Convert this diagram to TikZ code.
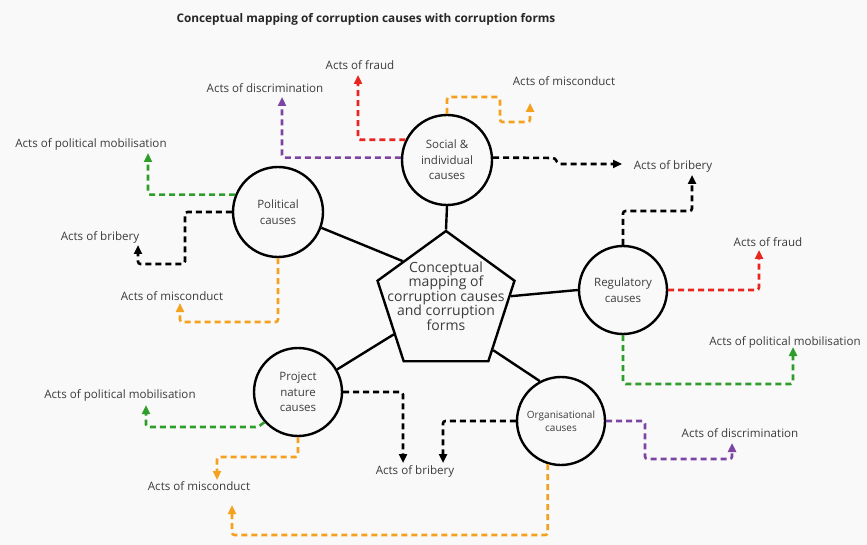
\documentclass[tikz,border=0pt]{standalone}
\usepackage{fontspec}
\setmainfont{Open Sans}
\usetikzlibrary{shapes.geometric,arrows.meta}
\definecolor{paper}{HTML}{F9F9F9}
\definecolor{ink}{HTML}{3C3C3C}
\definecolor{fraudred}{HTML}{E8251F}
\definecolor{discpurple}{HTML}{7E44A3}
\definecolor{miscorange}{HTML}{F4A11D}
\definecolor{mobgreen}{HTML}{2E9E2A}
\begin{document}
\begin{tikzpicture}[x=1pt,y=-1pt,
  cause/.style={circle,draw=black,line width=2.4pt,minimum size=88pt,inner sep=0pt,
    align=center,text=ink,font=\fontsize{11.5}{15.5}\selectfont},
  form/.style={text=ink,inner sep=1pt,font=\fontsize{11.6}{13}\selectfont},
  link/.style={line width=2.4pt},
  flow/.style={line width=2.6pt,dash pattern=on 6pt off 4pt,rounded corners=2.5pt,
    -{Triangle[length=9pt,width=8pt]}}]
\fill[paper] (0,0) rectangle (867,545);
\useasboundingbox (0,0) rectangle (867,545);

% title
\node[text=black!85,font=\bfseries\fontsize{11.8}{13}\selectfont] (title) at (366,19)
  {Conceptual mapping of corruption causes with corruption forms};

% central pentagon
\node[regular polygon,regular polygon sides=5,draw=black,line width=2.4pt,
  minimum size=144pt,inner sep=0pt,
  label={[text=ink,align=center,font=\fontsize{14}{14.6}\selectfont,yshift=7pt]center:Conceptual\\mapping of\\corruption causes\\and corruption\\forms}]
  (pent) at (446,303) {};

% cause circles
\node[cause,minimum size=90pt] (social) at (447,160) {Social \&\\individual\\causes};
\node[cause,minimum size=90pt] (pol) at (278,212) {Political\\causes};
\node[cause] (reg) at (623,290) {Regulatory\\causes};
\node[cause] (proj) at (298,392) {Project\\nature\\causes};
\node[cause,font=\fontsize{10}{13.5}\selectfont] (org) at (561,421) {Organisational\\causes};

% solid links to the centre
\draw[link] (social.south) -- (pent.90);
\draw[link] (pol.-20) -- (pent.136);
\draw[link] (reg.west) -- (pent.6);
\draw[link] (proj.30) -- (pent.211);
\draw[link] (org.118) -- (pent.315);

% corruption forms
\node[form] (fraud1) at (360,65) {Acts of fraud};
\node[form] (disc1) at (265,88) {Acts of discrimination};
\node[form] (misc1) at (564,81) {Acts of misconduct};
\node[form] (brib1) at (673,166) {Acts of bribery};
\node[form] (mob2) at (91,144) {Acts of political mobilisation};
\node[form] (brib2) at (100,237) {Acts of bribery};
\node[form] (misc2) at (172,296) {Acts of misconduct};
\node[form] (fraud3) at (768,242) {Acts of fraud};
\node[form] (mob3) at (785,342) {Acts of political mobilisation};
\node[form] (mob4) at (120,395) {Acts of political mobilisation};
\node[form] (misc4) at (199,486) {Acts of misconduct};
\node[form] (brib4) at (415,471) {Acts of bribery};
\node[form] (disc5) at (740,433) {Acts of discrimination};

% arrow ends
\coordinate (fraud1a) at (358,75);
\coordinate (disc1a) at (282,97);
\coordinate (misc1a) at (530,103);
\coordinate (brib1a) at (622,164);
\coordinate (mob2a) at (148,153);
\coordinate (brib2a) at (138,245);
\coordinate (misc2a) at (180,303);
\coordinate (brib3a) at (692,175);
\coordinate (fraud3a) at (759,250);
\coordinate (mob3a) at (793,347);
\coordinate (mob4a) at (146,405);
\coordinate (misc4a) at (217,480);
\coordinate (brib4a) at (403,463);
\coordinate (brib5a) at (443,463);
\coordinate (disc5a) at (732,443);
\coordinate (misc5a) at (232,505);

% social & individual causes
\draw[flow,fraudred] (social.154) -| (fraud1a);
\draw[flow,discpurple] (social.177) -| (disc1a);
\draw[flow,miscorange] (social.north) |- (500,97) |- (530,122) -- (misc1a);
\draw[flow,black] (social.3) -- (555,158) -- (558,164) -- (brib1a);

% political causes
\draw[flow,mobgreen] (pol.158) -| (mob2a);
\draw[flow,black] (pol.west) -- (185,212) |- (138,264) -- (brib2a);
\draw[flow,miscorange] (pol.south) |- (180,322) -- (misc2a);

% regulatory causes
\draw[flow,black] (reg.north) |- (692,211) -- (brib3a);
\draw[flow,fraudred] (reg.east) -| (fraud3a);
\draw[flow,mobgreen] (reg.south) |- (793,384) -- (mob3a);

% project nature causes
\draw[flow,black] (proj.east) -| (brib4a);
\draw[flow,mobgreen] (proj.222) -- (258,427) -| (mob4a);
\draw[flow,miscorange] (proj.south) |- (217,457) -- (misc4a);

% organisational causes
\draw[flow,black] (org.west) -| (brib5a);
\draw[flow,discpurple] (org.east) -- (645,421) |- (732,459) -- (disc5a);
\draw[flow,miscorange] (org.253) |- (232,535) -- (misc5a);
\end{tikzpicture}
\end{document}
